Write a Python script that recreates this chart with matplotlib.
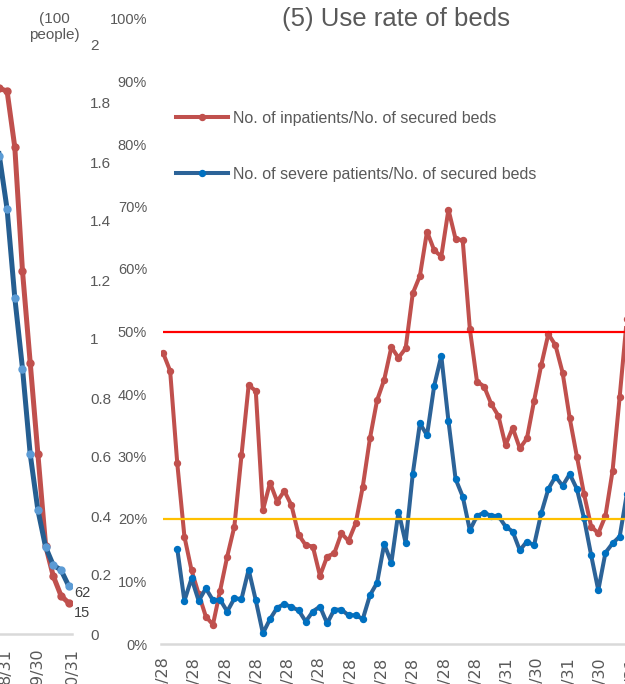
import numpy as np
import pandas as pd
import matplotlib
matplotlib.use('Agg')
import matplotlib.pyplot as plt
import matplotlib.dates as mdates

plt.rcParams['font.family'] = ['Liberation Sans', 'DejaVu Sans']

W, H, DPI = 625, 684, 100
GREY_TXT = '#595959'
NARROW = ['Liberation Sans Narrow', 'Liberation Sans', 'DejaVu Sans']

# ---- left panel (cut off in the picture): patients, unit = 100 people ----
left_dates = pd.date_range('2021-08-19', '2021-10-28', freq='7D')
left_red = [1.85, 1.85, 1.84, 1.65, 1.23, 0.92, 0.61, 0.30, 0.196, 0.13, 0.105]
left_blue = [1.78, 1.62, 1.44, 1.14, 0.90, 0.61, 0.42, 0.295, 0.233, 0.217, 0.163]
left_ticks = ['2021-08-31', '2021-09-30', '2021-10-31']
left_tick_labels = ['8/31', '9/30', '10/31']
left_yticks = [0, 0.2, 0.4, 0.6, 0.8, 1, 1.2, 1.4, 1.6, 1.8, 2]
left_ytick_labels = ['0', '0.2', '0.4', '0.6', '0.8', '1', '1.2', '1.4', '1.6', '1.8', '2']
left_end_labels = ['15', '62']

# ---- right panel: (5) Use rate of beds, weekly, % ----
start = '2020-04-28'
inpatient_rate = [46.6, 43.7, 28.9, 17.2, 11.8, 8.0, 4.4, 3.1, 8.5, 14.0,
                  18.8, 30.2, 41.4, 40.5, 21.4, 25.8, 22.8, 24.5, 22.2, 17.5,
                  15.8, 15.6, 10.9, 14.0, 14.5, 17.7, 16.5, 19.3, 25.2, 32.9,
                  39.0, 42.3, 47.5, 45.8, 47.3, 56.1, 58.9, 66.0, 63.0, 62.0,
                  69.5, 64.8, 64.6, 50.4, 42.0, 41.2, 38.4, 36.5, 31.8, 34.6,
                  31.3, 32.9, 38.9, 44.6, 49.6, 47.8, 43.4, 36.1, 30.0, 24.0,
                  18.8, 17.7, 20.5, 27.7, 39.6, 52.0, 62.0]
severe_rate = [np.nan, np.nan, 15.2, 6.9, 10.5, 6.9, 8.9, 7.0, 7.1, 5.2,
               7.3, 7.2, 11.9, 7.0, 1.7, 4.0, 5.8, 6.4, 5.9, 5.4,
               3.6, 5.2, 6.0, 3.3, 5.5, 5.5, 4.6, 4.6, 4.0, 7.8,
               9.8, 16.0, 13.0, 21.2, 16.2, 27.2, 35.3, 33.4, 41.3, 46.1,
               35.7, 26.4, 23.6, 18.2, 20.5, 21.0, 20.5, 20.5, 18.8, 18.0,
               15.0, 16.4, 15.8, 20.9, 24.8, 26.8, 25.3, 27.2, 24.8, 20.1,
               14.2, 8.6, 14.6, 16.1, 17.2, 24.0, 32.0]
right_dates = pd.date_range(start, periods=len(inpatient_rate), freq='7D')
right_ticks = ['2020-04-28', '2020-05-28', '2020-06-28', '2020-07-28', '2020-08-28',
               '2020-09-28', '2020-10-28', '2020-11-28', '2020-12-28', '2021-01-28',
               '2021-02-28', '2021-03-31', '2021-04-30', '2021-05-31', '2021-06-30',
               '2021-07-31']
right_tick_labels = ['4/28', '5/28', '6/28', '7/28', '8/28', '9/28', '10/28', '11/28',
                     '12/28', '1/28', '2/28', '3/31', '4/30', '5/31', '6/30', '7/31']
upper_line = 50
lower_line = 20
labels = ['No. of inpatients/No. of secured beds',
          'No. of severe patients/No. of secured beds']


def fx(px):
    return px / W


def fy(py):
    return 1 - py / H


fig = plt.figure(figsize=(W / DPI, H / DPI), dpi=DPI)

# left panel
axl = fig.add_axes([fx(-100), fy(634), 172 / W, (634 - 44) / H])
l_end = mdates.date2num(pd.Timestamp('2021-10-31'))
axl.set_xlim(l_end - 172 / 1.1, l_end)
axl.set_ylim(0, 2)
axl.plot(left_dates, left_red, color='#C0504D', lw=3.6, marker='o', ms=5,
         solid_joinstyle='round', zorder=3)
axl.plot(left_dates, left_blue, color='#255E91', lw=3.6, marker='o', ms=5,
         mfc='#5B9BD5', mec='#5B9BD5', solid_joinstyle='round', zorder=4)
axl.annotate(left_end_labels[0], (left_dates[-1], left_red[-1]), xytext=(4, -7),
             textcoords='offset points', fontsize=10.5, color='#404040',
             va='center', ha='left', annotation_clip=False, family=NARROW)
axl.annotate(left_end_labels[1], (left_dates[-1], left_blue[-1]), xytext=(4, -5),
             textcoords='offset points', fontsize=10.5, color='#404040',
             va='center', ha='left', annotation_clip=False, family=NARROW)
axl.yaxis.tick_right()
axl.set_yticks(left_yticks)
axl.set_yticklabels(left_ytick_labels, family=NARROW)
axl.set_xticks(pd.to_datetime(left_ticks))
axl.set_xticklabels(left_tick_labels, rotation=90, family='DejaVu Sans')
axl.tick_params(axis='y', length=0, pad=13, labelsize=11, labelcolor=GREY_TXT)
axl.tick_params(axis='x', length=0, pad=10, labelsize=11.5, labelcolor=GREY_TXT)
for s in ['top', 'left', 'right']:
    axl.spines[s].set_visible(False)
axl.spines['bottom'].set_color('#D9D9D9')
axl.spines['bottom'].set_linewidth(1.8)
axl.patch.set_alpha(0)
fig.text(fx(54), fy(27), '(100\npeople)', ha='center', va='center', fontsize=11,
         color=GREY_TXT, linespacing=1.2)

# right panel
axr = fig.add_axes([fx(161), fy(644), (700 - 161) / W, 625 / H])
ppd = 7.136 / 7
r_start = mdates.date2num(pd.Timestamp(start)) - 2 / ppd
axr.set_xlim(r_start, r_start + 539 / ppd)
axr.set_ylim(0, 100)
l1, = axr.plot(right_dates, inpatient_rate, color='#C0504D', lw=2.9, marker='o',
               ms=4.3, solid_joinstyle='round', zorder=3)
l2, = axr.plot(right_dates, severe_rate, color='#2C6398', lw=2.9, marker='o',
               ms=4.3, mfc='#0070C0', mec='#0070C0', solid_joinstyle='round', zorder=4)
axr.hlines(upper_line, right_dates[0], right_dates[-1], color='#FF0000', lw=1.6, zorder=5)
axr.hlines(lower_line, right_dates[0], right_dates[-1], color='#FFC000', lw=1.6, zorder=5)
yt = np.arange(0, 101, 10)
axr.set_yticks(yt)
axr.set_yticklabels([f'{v}%' for v in yt], family=NARROW)
axr.set_xticks(pd.to_datetime(right_ticks))
axr.set_xticklabels(right_tick_labels, rotation=90, family='DejaVu Sans')
axr.tick_params(axis='y', length=0, pad=10, labelsize=10.5, labelcolor=GREY_TXT)
axr.tick_params(axis='x', length=0, pad=9, labelsize=11.5, labelcolor=GREY_TXT)
for s in ['top', 'left', 'right']:
    axr.spines[s].set_visible(False)
axr.spines['bottom'].set_color('#D9D9D9')
axr.spines['bottom'].set_linewidth(1.8)
axr.patch.set_alpha(0)

fig.text(fx(396), fy(19), '(5) Use rate of beds', ha='center', va='center',
         fontsize=18.5, color=GREY_TXT)
fig.legend([l1, l2], labels, loc='upper left', bbox_to_anchor=(fx(176), fy(111)),
           frameon=False, fontsize=11.5, handlelength=3.25, handletextpad=0.3,
           labelspacing=2.55, borderpad=0, borderaxespad=0, labelcolor=GREY_TXT)

fig.savefig('out.png', dpi=DPI)
